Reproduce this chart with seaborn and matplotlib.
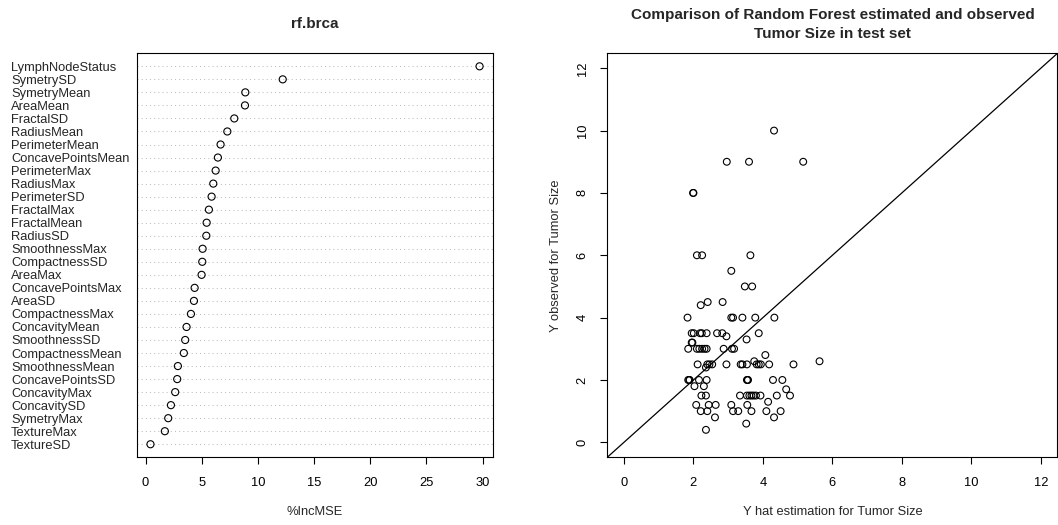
import matplotlib
matplotlib.use("Agg")
import matplotlib.pyplot as plt
import seaborn as sns
import pandas as pd

# ---- data: variable importance (top to bottom) ----
variables = ["LymphNodeStatus", "SymetrySD", "SymetryMean", "AreaMean", "FractalSD",
             "RadiusMean", "PerimeterMean", "ConcavePointsMean", "PerimeterMax", "RadiusMax",
             "PerimeterSD", "FractalMax", "FractalMean", "RadiusSD", "SmoothnessMax",
             "CompactnessSD", "AreaMax", "ConcavePointsMax", "AreaSD", "CompactnessMax",
             "ConcavityMean", "SmoothnessSD", "CompactnessMean", "SmoothnessMean",
             "ConcavePointsSD", "ConcavityMax", "ConcavitySD", "SymetryMax", "TextureMax",
             "TextureSD"]
inc_mse = [29.73, 12.21, 8.88, 8.85, 7.90, 7.28, 6.68, 6.44, 6.24, 6.03,
           5.88, 5.64, 5.44, 5.41, 5.08, 5.05, 4.99, 4.37, 4.31, 4.04,
           3.65, 3.53, 3.41, 2.88, 2.82, 2.64, 2.26, 2.02, 1.72, 0.44]

# ---- data: estimated vs observed tumor size ----
y_hat = [2.10, 2.25, 3.64, 3.09, 3.48, 3.69, 2.21, 2.41, 2.84,
         1.83, 3.09, 3.14, 3.41, 3.78, 4.33,
         1.95, 2.01, 2.19, 2.24, 2.38, 2.68, 2.83, 3.88,
         2.95, 1.95, 1.97, 3.53,
         1.85, 2.10, 2.17, 2.25, 2.32, 2.38, 2.87, 3.11, 3.17,
         4.07, 3.75, 5.63,
         2.12, 2.40, 2.46, 2.54, 2.95, 3.36, 3.41, 3.54, 3.82, 3.88, 3.94, 4.18, 4.88,
         2.36,
         1.85, 1.88, 1.89, 2.16, 2.38, 3.54, 3.56, 3.57, 4.29, 4.56,
         2.03, 2.30, 4.67,
         2.23, 2.36, 3.34, 3.54, 3.61, 3.67, 3.73, 3.80, 3.93, 4.40, 4.78,
         4.15,
         2.08, 2.44, 2.64, 3.09, 3.55,
         2.21, 2.40, 3.14, 3.29, 3.67, 4.10, 4.51,
         2.62, 4.32, 3.52, 2.36,
         1.99, 2.00, 2.96, 3.60, 5.16, 4.32]
y_obs = [6.0, 6.0, 6.0, 5.5, 5.0, 5.0, 4.4, 4.5, 4.5,
         4.0, 4.0, 4.0, 4.0, 4.0, 4.0,
         3.5, 3.5, 3.5, 3.5, 3.5, 3.5, 3.5, 3.5,
         3.4, 3.2, 3.2, 3.3,
         3.0, 3.0, 3.0, 3.0, 3.0, 3.0, 3.0, 3.0, 3.0,
         2.8, 2.6, 2.6,
         2.5, 2.5, 2.5, 2.5, 2.5, 2.5, 2.5, 2.5, 2.5, 2.5, 2.5, 2.5, 2.5,
         2.4,
         2.0, 2.0, 2.0, 2.0, 2.0, 2.0, 2.0, 2.0, 2.0, 2.0,
         1.8, 1.8, 1.7,
         1.5, 1.5, 1.5, 1.5, 1.5, 1.5, 1.5, 1.5, 1.5, 1.5, 1.5,
         1.3,
         1.2, 1.2, 1.2, 1.2, 1.2,
         1.0, 1.0, 1.0, 1.0, 1.0, 1.0, 1.0,
         0.8, 0.8, 0.6, 0.4,
         8.0, 8.0, 9.0, 9.0, 9.0, 10.0]

axis_ticks = [0, 2, 4, 6, 8, 10, 12]
imp_ticks = [0, 5, 10, 15, 20, 25, 30]

sns.set_style("white")
plt.rcParams["font.family"] = ["Liberation Sans", "DejaVu Sans"]
plt.rcParams["axes.linewidth"] = 0.8

BASE = 9.3
fig = plt.figure(figsize=(10.58, 5.25), dpi=100)
ax1 = fig.add_axes([0.1298, 0.1290, 0.3359, 0.7695])
ax2 = fig.add_axes([0.5740, 0.1290, 0.4255, 0.7695])

# ---------------- left: dotchart ----------------
n = len(variables)
imp = pd.DataFrame({"var": variables, "IncMSE": inc_mse,
                    "pos": [n - i for i in range(n)]})
for p in imp["pos"]:
    ax1.axhline(p, color="#BEBEBE", lw=0.75, dashes=(1, 3), zorder=1)
sns.scatterplot(data=imp, x="IncMSE", y="pos", ax=ax1, marker="o", s=26,
                facecolor="none", edgecolor="black", linewidth=0.8, zorder=3)
ax1.set_xlim(-0.73, 30.9)
ax1.set_ylim(0, n + 1)
ax1.set_xticks(imp_ticks)
ax1.set_yticks(imp["pos"])
ax1.set_yticklabels(imp["var"])
for lab in ax1.get_yticklabels():
    lab.set_ha("left")
ax1.tick_params(axis="y", length=0, pad=90.9, labelsize=BASE)
ax1.tick_params(axis="x", direction="out", length=5, width=0.8, pad=9.5,
                labelsize=BASE, bottom=True, colors="black")
ax1.set_xlabel("%IncMSE", fontsize=BASE)
ax1.set_ylabel("")
ax1.xaxis.label.set_va("center")
ax1.xaxis.set_label_coords(0.5, -0.1354)
ax1.set_title("rf.brca", fontsize=11, fontweight="bold", pad=18)

# ---------------- right: scatter ----------------
pred = pd.DataFrame({"yhat": y_hat, "yobs": y_obs})
sns.scatterplot(data=pred, x="yhat", y="yobs", ax=ax2, marker="o", s=24,
                facecolor="none", edgecolor="black", linewidth=0.8, zorder=3)
ax2.axline((0, 0), slope=1, color="black", lw=0.9, zorder=2)
ax2.set_xlim(-0.48, 12.48)
ax2.set_ylim(-0.48, 12.48)
ax2.set_xticks(axis_ticks)
ax2.set_yticks(axis_ticks)
ax2.tick_params(axis="x", direction="out", length=5, width=0.8, pad=9.5,
                labelsize=BASE, bottom=True, colors="black")
ax2.tick_params(axis="y", direction="out", length=5, width=0.8, pad=8.5,
                labelsize=BASE, left=True, colors="black")
for lab in ax2.get_yticklabels():
    lab.set_rotation(90)
    lab.set_va("center")
ax2.set_xlabel("Y hat estimation for Tumor Size", fontsize=BASE)
ax2.set_ylabel("Y observed for Tumor Size", fontsize=BASE)
ax2.xaxis.label.set_va("center")
ax2.xaxis.set_label_coords(0.5, -0.1354)
ax2.yaxis.label.set_va("center")
ax2.yaxis.set_label_coords(-0.115, 0.5)
ax2.set_title("Comparison of Random Forest estimated and observed\nTumor Size in test set",
              fontsize=11, fontweight="bold", pad=11, linespacing=1.42)

for ax in (ax1, ax2):
    for sp in ax.spines.values():
        sp.set_visible(True)
        sp.set_color("black")
        sp.set_linewidth(0.8)
    ax.grid(False)

fig.savefig("out.png", dpi=100, facecolor="white")
